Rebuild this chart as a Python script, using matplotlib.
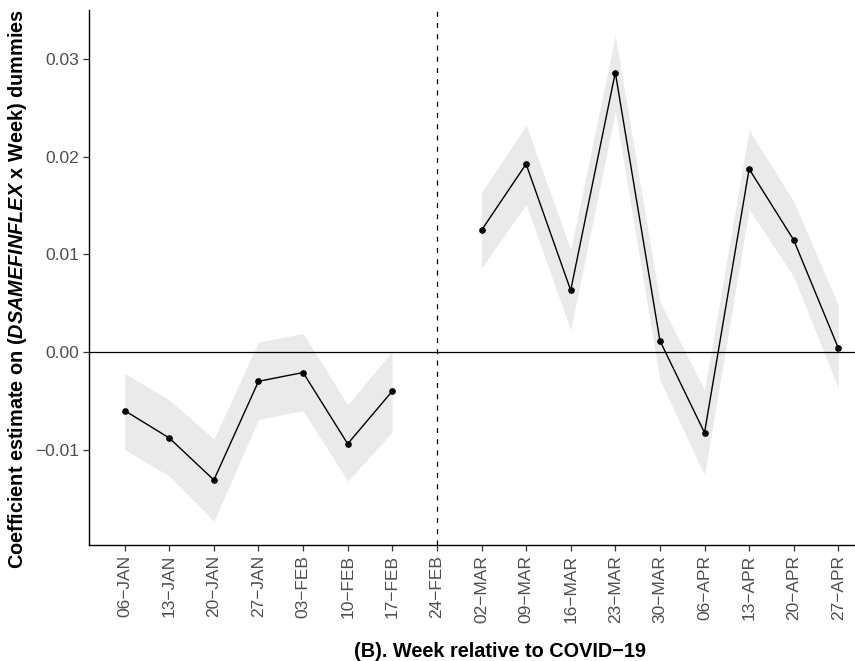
import numpy as np
import matplotlib.pyplot as plt

plt.rcParams['font.family'] = ['Liberation Sans', 'DejaVu Sans']
plt.rcParams['mathtext.fontset'] = 'custom'
plt.rcParams['mathtext.rm'] = 'Liberation Sans'
plt.rcParams['mathtext.bfit'] = 'Liberation Sans:italic:bold'

weeks = ['06-JAN', '13-JAN', '20-JAN', '27-JAN', '03-FEB', '10-FEB', '17-FEB', '24-FEB',
         '02-MAR', '09-MAR', '16-MAR', '23-MAR', '30-MAR', '06-APR', '13-APR', '20-APR', '27-APR']

# estimates before and after the event week (24-FEB has no estimate)
coef_pre = [-0.0060, -0.0088, -0.0131, -0.0030, -0.0021, -0.0094, -0.0040]
lower_pre = [-0.0100, -0.0127, -0.0173, -0.0069, -0.0060, -0.0132, -0.0082]
upper_pre = [-0.0022, -0.0049, -0.0089, 0.0010, 0.0019, -0.0054, 0.0001]

coef_post = [0.01246, 0.01924, 0.00631, 0.0286, 0.00116, -0.00826, 0.01873, 0.01146, 0.0004]
lower_post = [0.00857, 0.01512, 0.00225, 0.0246, -0.00287, -0.0126, 0.0146, 0.0077, -0.0037]
upper_post = [0.01635, 0.0232, 0.0105, 0.0324, 0.00515, -0.0039, 0.0227, 0.0154, 0.0048]

event_week = '24-FEB'

pos = np.arange(len(weeks))
x_pre = pos[:len(coef_pre)]
x_post = pos[len(weeks) - len(coef_post):]

fig = plt.figure(figsize=(8.55, 6.61), dpi=100)
W, H = 855, 661
ax = fig.add_axes([89 / W, 116 / H, 785 / W, 535 / H])

band_col = '#EAEAEA'
for xs, lo, hi, c in [(x_pre, lower_pre, upper_pre, coef_pre),
                      (x_post, lower_post, upper_post, coef_post)]:
    ax.fill_between(xs, lo, hi, color=band_col, linewidth=0, zorder=1)
    ax.plot(xs, c, color='black', lw=1.0, marker='o', markersize=3.8, zorder=3)

ax.axhline(0, color='black', lw=0.9, zorder=2)
ax.axvline(weeks.index(event_week), color='black', lw=0.9, ls=(0, (4, 5)), zorder=2)

ax.set_xlim(-0.8, len(weeks) - 1 + 0.8)
ax.set_ylim(-0.01975, 0.0350)
ax.set_xticks(pos)
ax.set_xticklabels([w.replace('-', '\u2212') for w in weeks], rotation=90)
ax.set_yticks([-0.01, 0.0, 0.01, 0.02, 0.03])
ax.set_yticklabels(['\u22120.01', '0.00', '0.01', '0.02', '0.03'])

for s in ['top', 'right']:
    ax.spines[s].set_visible(False)
for s in ['left', 'bottom']:
    ax.spines[s].set_linewidth(1.0)
ax.tick_params(axis='both', colors='#333333', labelcolor='#4D4D4D', labelsize=12.5,
               length=4, width=0.9, pad=3)

ax.set_xlabel('(B). Week relative to COVID\u221219', fontsize=14.3, fontweight='bold')
ax.xaxis.set_label_coords((500 - 89) / 785, -(642 - 545) / 535)
ax.set_ylabel(r'Coefficient estimate on ($\mathbfit{DSAMEFINFLEX}$ x Week) dummies',
              fontsize=14.3, fontweight='bold')
ax.yaxis.set_label_coords(-(89 - 29) / 785, (661 - 289 - 116) / 535)

fig.savefig('out.png', dpi=100)
